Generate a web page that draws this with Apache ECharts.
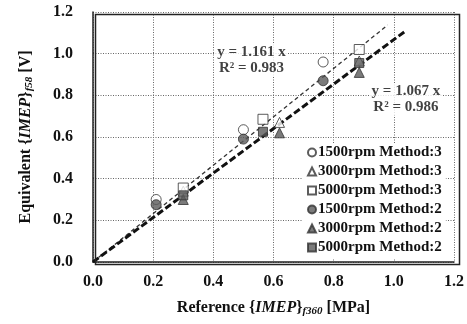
<!DOCTYPE html>
<html>
<head>
<meta charset="utf-8">
<script src="https://cdn.jsdelivr.net/npm/echarts@6/dist/echarts.min.js"></script>
<style>
  html, body { margin: 0; background: #fff; }
  #chart { width: 467px; height: 324px; }
</style>
</head>
<body>
<div id="chart"></div>
<script>
// measured points [reference, equivalent]
const rpm1500m3 = [[0.21, 0.30], [0.50, 0.635], [0.765, 0.96]]
const rpm3000m3 = [[0.30, 0.34], [0.62, 0.67], [0.885, 0.965]]
const rpm5000m3 = [[0.30, 0.355], [0.565, 0.685], [0.885, 1.02]]
const rpm1500m2 = [[0.21, 0.275], [0.50, 0.59], [0.765, 0.87]]
const rpm3000m2 = [[0.30, 0.30], [0.62, 0.62], [0.885, 0.91]]
const rpm5000m2 = [[0.30, 0.32], [0.565, 0.625], [0.885, 0.955]]

// trend lines (end points)
const fitMethod3 = [[0, 0], [0.98, 1.138]]
const fitMethod2 = [[0, 0], [1.04, 1.11]]

// fit labels [x, y] in data space
const fitLabel3 = [[0.527, 0.97]]
const fitLabel2 = [[1.04, 0.78]]
const fitText3 = 'y = 1.161 x\nR² = 0.983'
const fitText2 = 'y = 1.067 x\nR² = 0.986'

const chart = echarts.init(document.getElementById('chart'))
const serif = '"Liberation Serif", "Times New Roman", serif'

const openStyle = { color: '#fff', borderColor: '#333', borderWidth: 1 }
const fillStyle = { color: '#5a5a5a', borderColor: '#333', borderWidth: 1 }

const points = (name, data, symbol, style, size) => ({
  name,
  type: 'scatter',
  data,
  symbol,
  symbolSize: size,
  itemStyle: style,
  z: 4,
})

const fitLabel = (data, text) => ({
  type: 'scatter',
  data,
  symbolSize: 0,
  silent: true,
  z: 5,
  label: {
    show: true,
    position: 'inside',
    formatter: text,
    fontFamily: serif,
    fontWeight: 'bold',
    fontSize: 15,
    lineHeight: 16,
    color: '#111',
    backgroundColor: '#fff',
    padding: [0, 2],
  },
})

const axisLabel = {
  fontFamily: serif,
  fontWeight: 'bold',
  fontSize: 16,
  color: '#111',
  formatter: (v) => v.toFixed(1),
}

const rich = {
  bi: { fontFamily: serif, fontWeight: 'bold', fontStyle: 'italic', fontSize: 16, color: '#111' },
  sub: { fontFamily: serif, fontWeight: 'bold', fontStyle: 'italic', fontSize: 11, color: '#111', verticalAlign: 'bottom', padding: [8, 0, 0, 0] },
}

chart.setOption({
  animation: false,
  backgroundColor: '#fff',
  grid: { left: 93, right: 10, top: 12, bottom: 62 },
  xAxis: {
    type: 'value',
    min: 0,
    max: 1.2,
    interval: 0.2,
    name: 'Reference {{bi|IMEP}}{sub|f360} [MPa]',
    nameLocation: 'middle',
    nameGap: 36,
    nameTextStyle: { fontFamily: serif, fontWeight: 'bold', fontSize: 16, color: '#111', rich },
    axisLine: { onZero: false, lineStyle: { color: '#222', width: 1.5 } },
    axisTick: { show: false },
    axisLabel: { ...axisLabel, margin: 12 },
    splitLine: { show: true, lineStyle: { color: '#666', type: [1, 1.5], width: 1 } },
  },
  yAxis: {
    type: 'value',
    min: 0,
    max: 1.2,
    interval: 0.2,
    name: 'Equivalent {{bi|IMEP}}{sub|f58} [V]',
    nameLocation: 'middle',
    nameGap: 58,
    nameTextStyle: { fontFamily: serif, fontWeight: 'bold', fontSize: 16, color: '#111', rich },
    axisLine: { onZero: false, lineStyle: { color: '#222', width: 1.5 } },
    axisTick: { show: false },
    axisLabel: { ...axisLabel, margin: 20 },
    splitLine: { show: true, lineStyle: { color: '#666', type: [1, 1.5], width: 1 } },
  },
  graphic: [
    {
      type: 'rect',
      left: 93,
      top: 12,
      shape: { width: 364, height: 250 },
      style: { fill: 'none', stroke: '#222', lineWidth: 1.5 },
      z: 10,
      silent: true,
    },
  ],
  legend: {
    orient: 'vertical',
    left: 303,
    top: 143,
    itemGap: 4,
    itemWidth: 8,
    itemHeight: 8,
    padding: [2, 4, 3, 4],
    backgroundColor: '#fff',
    textStyle: { fontFamily: serif, fontWeight: 'bold', fontSize: 15, color: '#111', padding: [0, 0, 0, -3] },
    data: [
      '1500rpm Method:3', '3000rpm Method:3', '5000rpm Method:3',
      '1500rpm Method:2', '3000rpm Method:2', '5000rpm Method:2',
    ],
  },
  series: [
    {
      type: 'line',
      data: fitMethod3,
      symbol: 'none',
      silent: true,
      lineStyle: { color: '#333', width: 1.3, type: [4, 3] },
      z: 3,
    },
    {
      type: 'line',
      data: fitMethod2,
      symbol: 'none',
      silent: true,
      lineStyle: { color: '#111', width: 3, type: [7, 3] },
      z: 3,
    },
    points('1500rpm Method:3', rpm1500m3, 'circle', openStyle, 10),
    points('3000rpm Method:3', rpm3000m3, 'triangle', openStyle, 10),
    points('5000rpm Method:3', rpm5000m3, 'rect', openStyle, 10),
    points('1500rpm Method:2', rpm1500m2, 'circle', fillStyle, 10),
    points('3000rpm Method:2', rpm3000m2, 'triangle', fillStyle, 10),
    points('5000rpm Method:2', rpm5000m2, 'rect', fillStyle, 9),
    fitLabel(fitLabel3, fitText3),
    fitLabel(fitLabel2, fitText2),
  ],
})
</script>
</body>
</html>
